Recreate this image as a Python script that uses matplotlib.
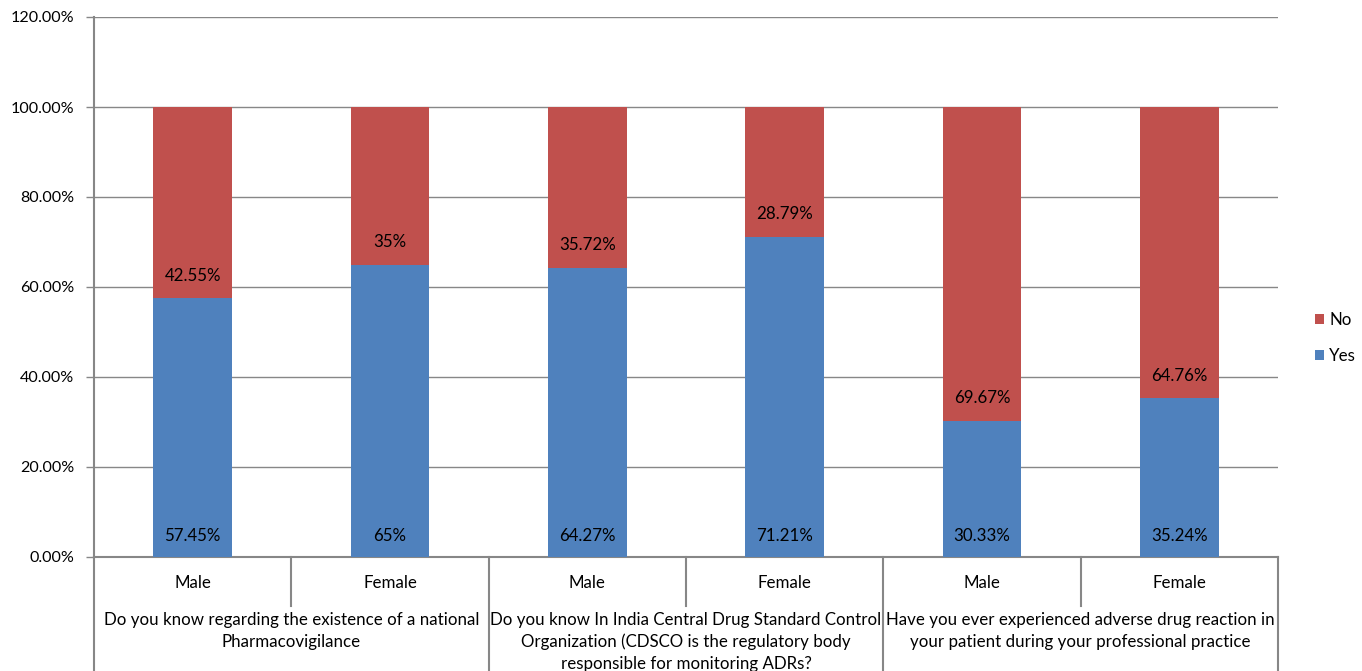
import numpy as np
import matplotlib.pyplot as plt

# Data
groups = ['Do you know regarding the existence of a national\nPharmacovigilance',
          'Do you know In India Central Drug Standard Control\nOrganization (CDSCO is the regulatory body\nresponsible for monitoring ADRs?',
          'Have you ever experienced adverse drug reaction in\nyour patient during your professional practice']
genders = ['Male', 'Female', 'Male', 'Female', 'Male', 'Female']
yes_vals = [57.45, 65, 64.27, 71.21, 30.33, 35.24]
no_vals = [42.55, 35, 35.72, 28.79, 69.67, 64.76]
yes_labels = ['57.45%', '65%', '64.27%', '71.21%', '30.33%', '35.24%']
no_labels = ['42.55%', '35%', '35.72%', '28.79%', '69.67%', '64.76%']

plt.rcParams['font.family'] = ['Lato', 'DejaVu Sans']
fs = 12.2
grid_col = '#878787'
blue = '#4F81BD'
red = '#C0504D'

fig = plt.figure(figsize=(13.62, 6.71), dpi=100)
ax = fig.add_axes([94/1362, 1 - 557/671, (1278-94)/1362, (557-17)/671])

x = np.arange(len(genders))
yes = np.array(yes_vals) / 100
no = np.array(no_vals) / 100
ax.bar(x, yes, width=0.4, color=blue, label='Yes', zorder=3)
ax.bar(x, no, width=0.4, bottom=yes, color=red, label='No', zorder=3)

for i in range(len(x)):
    ax.text(x[i], 0.047, yes_labels[i], ha='center', va='center', fontsize=fs, zorder=4)
    ax.text(x[i], yes[i] + 0.05, no_labels[i], ha='center', va='center', fontsize=fs, zorder=4)

ax.set_xlim(-0.5, 5.5)
ax.set_ylim(0, 1.2)
ticks = np.arange(0, 1.21, 0.2)
ax.set_yticks(ticks)
ax.set_yticklabels(['%.2f%%' % (v * 100) for v in ticks], fontsize=11.6)
ax.yaxis.grid(True, color=grid_col, linewidth=1, zorder=0)
ax.tick_params(axis='y', length=6, color=grid_col, width=1, pad=8)
ax.set_xticks([])
for s in ['top', 'right']:
    ax.spines[s].set_visible(False)
for s in ['left', 'bottom']:
    ax.spines[s].set_color(grid_col)
    ax.spines[s].set_linewidth(1.5)

# two-level category axis
trans = ax.get_xaxis_transform()
for i, g in enumerate(genders):
    ax.text(x[i], -0.049, g, transform=trans, ha='center', va='center', fontsize=fs)
for j, g in enumerate(groups):
    ax.text(2 * j + 0.5, -0.102, g, transform=trans, ha='center', va='top',
            fontsize=fs, linespacing=1.42)
for k in range(7):
    pos = k - 0.5
    low = -0.09 if k % 2 == 1 else -0.32
    ax.plot([pos, pos], [0, low], transform=trans, color=grid_col, lw=1.5, clip_on=False)

handles, labels = ax.get_legend_handles_labels()
fig.legend(handles[::-1], labels[::-1], loc='center left', bbox_to_anchor=(1308/1362, 1 - 338/671),
           frameon=False, fontsize=fs, handlelength=0.55, handleheight=0.55,
           handletextpad=0.3, labelspacing=1.2, borderaxespad=0)

fig.savefig('out.png', dpi=100)
